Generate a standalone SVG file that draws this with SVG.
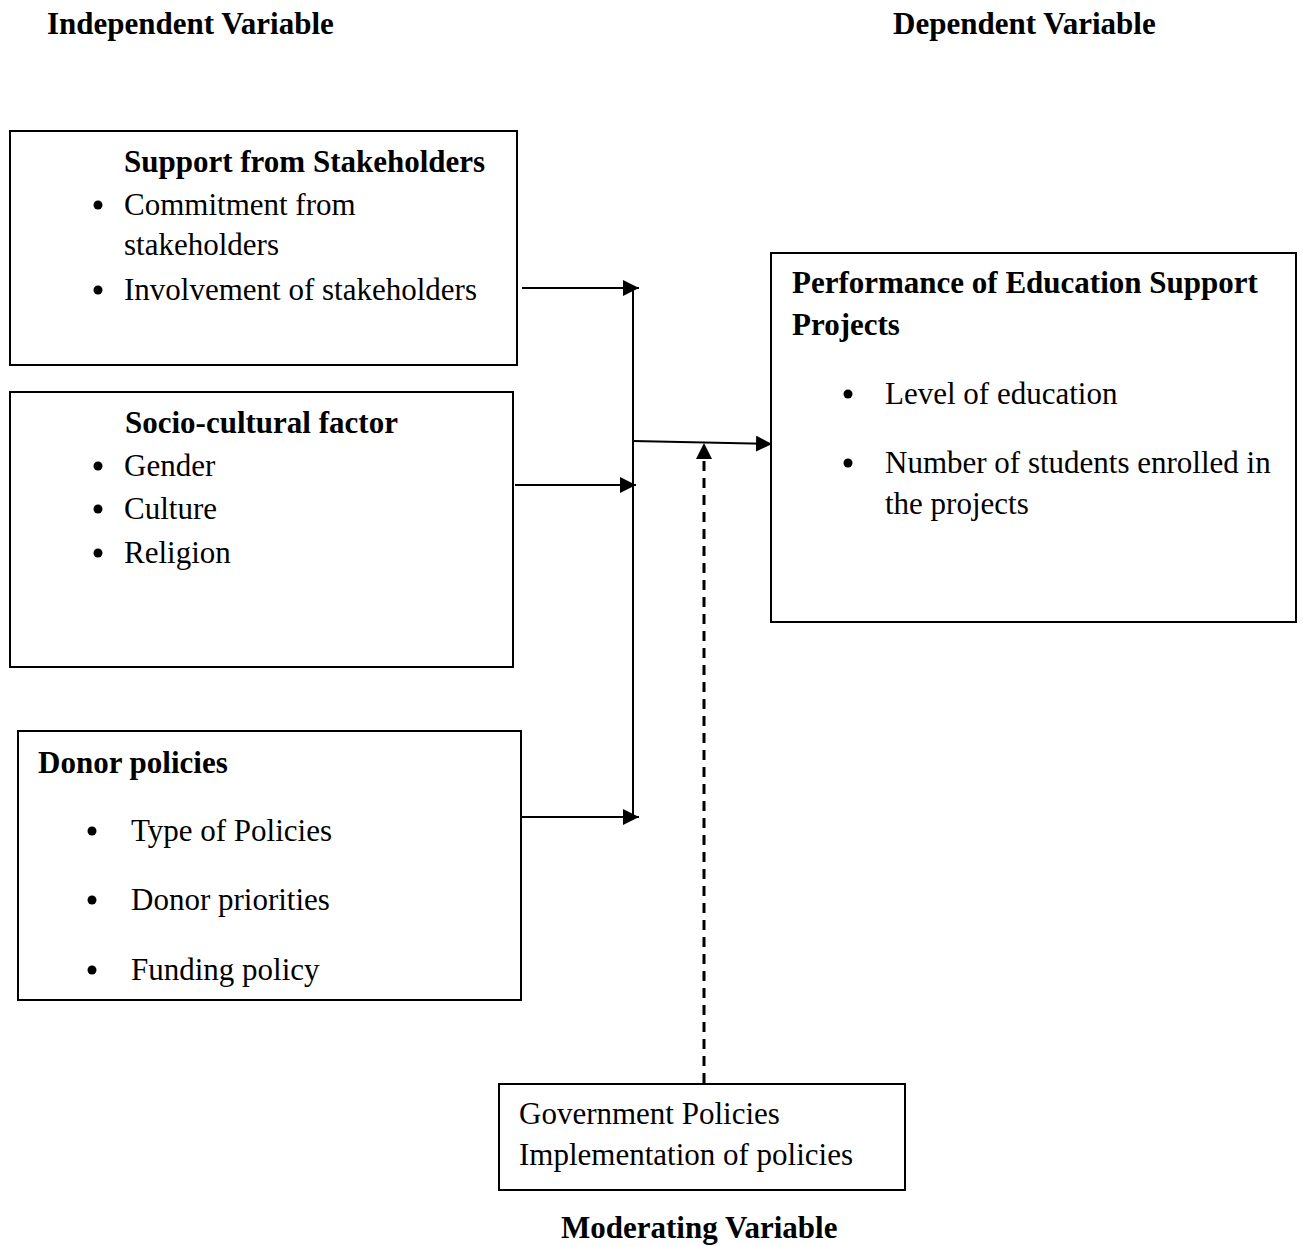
<svg xmlns="http://www.w3.org/2000/svg" width="1303" height="1246" viewBox="0 0 1303 1246">
<style>
text{font-family:"Liberation Serif","Times New Roman",serif;font-size:31px;fill:#000}
.b{font-weight:bold}
.box{fill:#fff;stroke:#000;stroke-width:2}
.ln{fill:none;stroke:#000;stroke-width:2}
.dash{fill:none;stroke:#000;stroke-width:3;stroke-dasharray:10,7}
</style>
<defs>
<marker id="ah" markerWidth="16" markerHeight="16" refX="16" refY="8" orient="auto" markerUnits="userSpaceOnUse">
<path d="M0,0 L16,8 L0,16 Z" fill="#000"/>
</marker>
</defs>
<rect width="1303" height="1246" fill="#fff"/>
<text class="b" x="47" y="34">Independent Variable</text>
<text class="b" x="893" y="34">Dependent Variable</text>
<text class="b" x="561" y="1238">Moderating Variable</text>

<g id="node-stakeholders">
<rect class="box" x="10" y="131" width="507" height="234"/>
<text class="b" x="124" y="172">Support from Stakeholders</text>
<circle cx="98" cy="205" r="4.5"/>
<text x="124" y="215">Commitment from</text>
<text x="124" y="255">stakeholders</text>
<circle cx="98" cy="290" r="4.5"/>
<text x="124" y="300">Involvement of stakeholders</text>
</g>

<g id="node-socio">
<rect class="box" x="10" y="392" width="503" height="275"/>
<text class="b" x="125" y="433">Socio-cultural factor</text>
<circle cx="98" cy="466" r="4.5"/>
<text x="124" y="476">Gender</text>
<circle cx="98" cy="509" r="4.5"/>
<text x="124" y="519">Culture</text>
<circle cx="98" cy="553" r="4.5"/>
<text x="124" y="563">Religion</text>
</g>

<g id="node-donor">
<rect class="box" x="18" y="731" width="503" height="269"/>
<text class="b" x="38" y="773">Donor policies</text>
<circle cx="92" cy="831" r="4.5"/>
<text x="131" y="841">Type of Policies</text>
<circle cx="92" cy="900" r="4.5"/>
<text x="131" y="910">Donor priorities</text>
<circle cx="92" cy="970" r="4.5"/>
<text x="131" y="980">Funding policy</text>
</g>

<g id="node-performance">
<rect class="box" x="771" y="253" width="525" height="369"/>
<text class="b" x="792" y="293">Performance of Education Support</text>
<text class="b" x="792" y="335">Projects</text>
<circle cx="848" cy="394" r="4.5"/>
<text x="885" y="404">Level of education</text>
<circle cx="848" cy="463" r="4.5"/>
<text x="885" y="473">Number of students enrolled in</text>
<text x="885" y="514">the projects</text>
</g>

<g id="node-government">
<rect class="box" x="499" y="1084" width="406" height="106"/>
<text x="519" y="1124">Government Policies</text>
<text x="519" y="1165">Implementation of policies</text>
</g>

<g id="connectors">
<line class="ln" x1="522" y1="288" x2="639" y2="288" marker-end="url(#ah)"/>
<line class="ln" x1="515" y1="485" x2="636" y2="485" marker-end="url(#ah)"/>
<line class="ln" x1="522" y1="817" x2="639" y2="817" marker-end="url(#ah)"/>
<line class="ln" x1="633" y1="288" x2="633" y2="817"/>
<line class="ln" x1="633" y1="441" x2="772" y2="444" marker-end="url(#ah)"/>
<line class="dash" x1="704" y1="1083" x2="704" y2="458"/>
<path d="M704,443 L696,459 L712,459 Z" fill="#000"/>
</g>
</svg>
